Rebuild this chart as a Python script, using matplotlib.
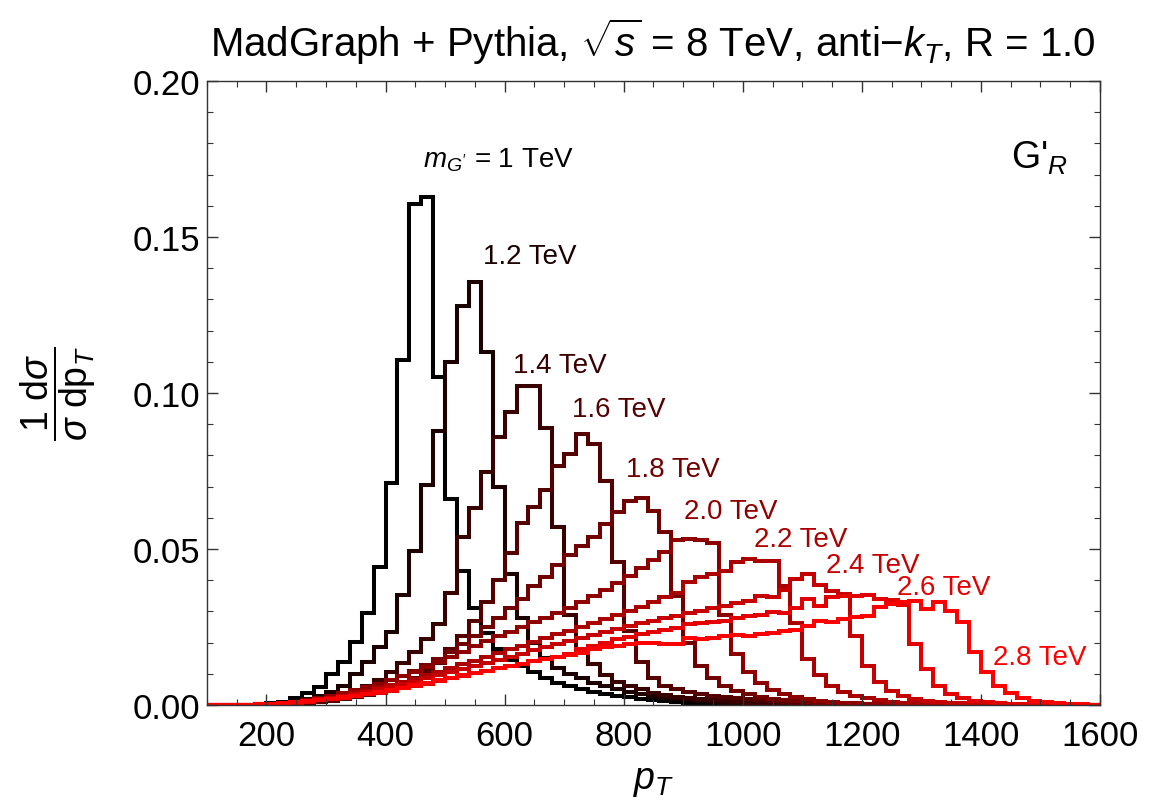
import numpy as np
import matplotlib.pyplot as plt
from matplotlib.ticker import MultipleLocator

plt.rcParams['font.family'] = ['Liberation Sans', 'DejaVu Sans']
plt.rcParams['mathtext.fontset'] = 'custom'
plt.rcParams['mathtext.rm'] = 'Liberation Sans'
plt.rcParams['mathtext.it'] = 'Liberation Sans:italic'
plt.rcParams['mathtext.bf'] = 'Liberation Sans:bold'

# pT bins: 100 .. 1600 GeV, 20 GeV wide (75 bins)
bin_edges = np.arange(100, 1601, 20)

masses = ['1.0', '1.2', '1.4', '1.6', '1.8', '2.0', '2.2', '2.4', '2.6', '2.8']

h_10 = [0, 0, 0, 0, 0, 0.0005, 0.001, 0.0021, 0.0038, 0.0057,
        0.0099, 0.0139, 0.0201, 0.0295, 0.0441, 0.0713, 0.1106, 0.1606, 0.1627, 0.105,
        0.066, 0.043, 0.031, 0.023, 0.018, 0.0145, 0.0125, 0.0105, 0.0085, 0.007,
        0.006, 0.005, 0.0042, 0.0035, 0.003, 0.0025, 0.002, 0.0016, 0.0012, 0.0009,
        0.0007, 0.0005, 0.0004, 0.0003, 0.0002, 0.0001, 0.0001, 0, 0, 0,
        0, 0, 0, 0, 0, 0, 0, 0, 0, 0,
        0, 0, 0, 0, 0, 0, 0, 0, 0, 0,
        0, 0, 0, 0, 0]
h_12 = [0, 0, 0, 0, 0, 0.0003, 0.0006, 0.0011, 0.0018, 0.0028,
        0.0041, 0.0062, 0.0099, 0.0139, 0.0185, 0.0235, 0.0353, 0.0495, 0.0706, 0.0879,
        0.110, 0.1278, 0.1355, 0.113, 0.0698, 0.042, 0.028, 0.02, 0.015, 0.012,
        0.01, 0.0085, 0.007, 0.006, 0.005, 0.0042, 0.0035, 0.0029, 0.0024, 0.002,
        0.0016, 0.0013, 0.001, 0.0008, 0.0006, 0.0005, 0.0004, 0.0003, 0.0002, 0.0001,
        0, 0, 0, 0, 0, 0, 0, 0, 0, 0,
        0, 0, 0, 0, 0, 0, 0, 0, 0, 0,
        0, 0, 0, 0, 0]
h_14 = [0, 0, 0, 0, 0, 0.0002, 0.0004, 0.0007, 0.0011, 0.0016,
        0.0023, 0.0032, 0.0045, 0.006, 0.008, 0.0105, 0.0135, 0.017, 0.021, 0.026,
        0.036, 0.054, 0.063, 0.0746, 0.086, 0.094, 0.1023, 0.1023, 0.0888, 0.057,
        0.029, 0.018, 0.013, 0.0095, 0.0075, 0.006, 0.005, 0.004, 0.0033, 0.0027,
        0.0022, 0.0018, 0.0015, 0.0012, 0.001, 0.0008, 0.0006, 0.0005, 0.0004, 0.0003,
        0.0002, 0.0001, 0, 0, 0, 0, 0, 0, 0, 0,
        0, 0, 0, 0, 0, 0, 0, 0, 0, 0,
        0, 0, 0, 0, 0]
h_16 = [0, 0, 0, 0, 0, 0.0001, 0.0002, 0.0004, 0.0006, 0.0009,
        0.0013, 0.0018, 0.0025, 0.0033, 0.0043, 0.0055, 0.007, 0.0088, 0.011, 0.0135,
        0.018, 0.022, 0.027, 0.033, 0.04, 0.0487, 0.0583, 0.0634, 0.069, 0.0767,
        0.0804, 0.0869, 0.0837, 0.0719, 0.0457, 0.0238, 0.0137, 0.0085, 0.0062, 0.005,
        0.0042, 0.0036, 0.003, 0.0025, 0.0021, 0.0018, 0.0015, 0.0012, 0.001, 0.0008,
        0.0006, 0.0005, 0.0004, 0.0003, 0.0002, 0.0002, 0.0001, 0, 0, 0,
        0, 0, 0, 0, 0, 0, 0, 0, 0, 0,
        0, 0, 0, 0, 0]
h_18 = [0, 0, 0, 0.0001, 0.0002, 0.0004, 0.0007, 0.0011, 0.0016, 0.0022,
        0.0029, 0.0036, 0.0045, 0.0055, 0.0067, 0.008, 0.0094, 0.011, 0.0128, 0.0148,
        0.017, 0.0195, 0.022, 0.025, 0.028, 0.031, 0.034, 0.038, 0.041, 0.045,
        0.048, 0.051, 0.054, 0.058, 0.062, 0.0655, 0.0665, 0.0623, 0.0553, 0.035,
        0.02, 0.0125, 0.0085, 0.006, 0.0045, 0.0034, 0.0026, 0.002, 0.0015, 0.0012,
        0.0009, 0.0007, 0.0005, 0.0004, 0.0003, 0.0002, 0.0001, 0, 0, 0,
        0, 0, 0, 0, 0, 0, 0, 0, 0, 0,
        0, 0, 0, 0, 0]
h_20 = [0, 0, 0, 0.0001, 0.0002, 0.0004, 0.0007, 0.001, 0.0014, 0.0019,
        0.003, 0.0038, 0.0047, 0.0057, 0.0068, 0.008, 0.0093, 0.0107, 0.0122, 0.0138,
        0.0155, 0.017, 0.019, 0.0205, 0.022, 0.0235, 0.025, 0.0265, 0.028, 0.0295,
        0.031, 0.033, 0.035, 0.037, 0.039, 0.0415, 0.044, 0.0465, 0.049, 0.053,
        0.0532, 0.053, 0.052, 0.029, 0.0165, 0.0105, 0.007, 0.0048, 0.0034, 0.0025,
        0.0018, 0.0013, 0.001, 0.0007, 0.0005, 0.0004, 0.0003, 0.0002, 0.0001, 0,
        0, 0, 0, 0, 0, 0, 0, 0, 0, 0,
        0, 0, 0, 0, 0]
h_22 = [0, 0, 0, 0.0001, 0.0002, 0.0004, 0.0006, 0.0009, 0.0013, 0.0018,
        0.0024, 0.003, 0.0037, 0.0045, 0.0054, 0.0063, 0.0073, 0.0084, 0.0095, 0.0106,
        0.0118, 0.013, 0.0142, 0.0154, 0.0166, 0.0178, 0.019, 0.0202, 0.0214, 0.0226,
        0.0238, 0.025, 0.0262, 0.0275, 0.0288, 0.03, 0.0315, 0.033, 0.0345, 0.036,
        0.0395, 0.041, 0.042, 0.043, 0.0457, 0.0468, 0.046, 0.046, 0.038, 0.0264,
        0.0147, 0.0095, 0.0062, 0.0042, 0.003, 0.0021, 0.0015, 0.0011, 0.0008, 0.0006,
        0.0004, 0.0003, 0.0002, 0.0001, 0, 0, 0, 0, 0, 0,
        0, 0, 0, 0, 0]
h_24 = [0, 0, 0, 0.0001, 0.0002, 0.0004, 0.0006, 0.0009, 0.0013, 0.0018,
        0.0023, 0.0029, 0.0035, 0.0042, 0.005, 0.0058, 0.0066, 0.0075, 0.0085, 0.0095,
        0.0105, 0.0115, 0.0125, 0.0135, 0.0145, 0.0155, 0.0165, 0.0175, 0.0185, 0.0195,
        0.0205, 0.0215, 0.0225, 0.0235, 0.0245, 0.0254, 0.0262, 0.027, 0.0278, 0.0286,
        0.0295, 0.0302, 0.031, 0.0318, 0.0326, 0.0334, 0.035, 0.0345, 0.037, 0.0404,
        0.042, 0.0385, 0.0366, 0.0356, 0.0222, 0.0126, 0.0073, 0.0045, 0.003, 0.002,
        0.0014, 0.001, 0.0007, 0.0005, 0.0003, 0.0002, 0.0001, 0, 0, 0,
        0, 0, 0, 0, 0]
h_26 = [0, 0, 0, 0.0001, 0.0002, 0.0003, 0.0005, 0.0008, 0.0011, 0.0015,
        0.0019, 0.0024, 0.0029, 0.0034, 0.004, 0.0046, 0.0053, 0.006, 0.0068, 0.0077,
        0.0086, 0.0094, 0.0102, 0.011, 0.0118, 0.0126, 0.0133, 0.014, 0.0148, 0.0155,
        0.0165, 0.0178, 0.019, 0.02, 0.021, 0.0218, 0.0226, 0.0233, 0.024, 0.0248,
        0.026, 0.0262, 0.0265, 0.0268, 0.028, 0.0285, 0.029, 0.0298, 0.0295, 0.031,
        0.034, 0.0318, 0.0345, 0.035, 0.035, 0.0352, 0.034, 0.0338, 0.032, 0.0196,
        0.0116, 0.0062, 0.0036, 0.0022, 0.0014, 0.0009, 0.0006, 0.0004, 0.0003, 0.0002,
        0.0001, 0, 0, 0, 0]
h_28 = [0, 0, 0, 0.0001, 0.0002, 0.0004, 0.0006, 0.0009, 0.0012, 0.0016,
        0.002, 0.0025, 0.003, 0.0036, 0.0042, 0.0049, 0.0056, 0.0063, 0.0071, 0.0079,
        0.0087, 0.0095, 0.0103, 0.011, 0.0118, 0.0125, 0.0132, 0.014, 0.0148, 0.0155,
        0.016, 0.0168, 0.0178, 0.0185, 0.019, 0.0195, 0.0198, 0.02, 0.0196, 0.0197,
        0.0215, 0.021, 0.0215, 0.0222, 0.0225, 0.0222, 0.0228, 0.023, 0.0238, 0.024,
        0.0254, 0.027, 0.0265, 0.0276, 0.0281, 0.0286, 0.0313, 0.0324, 0.0329, 0.0334,
        0.0308, 0.0329, 0.0302, 0.0265, 0.0169, 0.0105, 0.0062, 0.0037, 0.0022, 0.0014,
        0.0009, 0.0006, 0.0004, 0.0002, 0.0001]

hists = [h_10, h_12, h_14, h_16, h_18, h_20, h_22, h_24, h_26, h_28]

# label text and where it sits (pT, value)
label_text = [r"$m_{G'}$ = 1 TeV", '1.2 TeV', '1.4 TeV', '1.6 TeV', '1.8 TeV',
              '2.0 TeV', '2.2 TeV', '2.4 TeV', '2.6 TeV', '2.8 TeV']
label_x = [590, 643, 693, 792, 883, 980, 1098, 1219, 1338, 1498]
label_y = [0.175, 0.1439, 0.109, 0.0949, 0.0756, 0.0622, 0.0532, 0.0449, 0.0378, 0.0154]

fig = plt.figure(figsize=(11.51, 8.03), dpi=100)
ax = fig.add_axes([0.1798, 0.1208, 0.7759, 0.7771])

n = len(hists)
for i in range(n):
    col = (i / (n - 1), 0, 0)
    ax.stairs(hists[i], bin_edges, color=col, linewidth=2.9, baseline=0)
    ax.text(label_x[i], label_y[i], label_text[i], color=col, fontsize=20,
            ha='center', va='center')

ax.text(1499, 0.1756, r"G'$_R$", fontsize=27, ha='center', va='center')

ax.set_xlim(100, 1600)
ax.set_ylim(0, 0.2)
ax.xaxis.set_major_locator(MultipleLocator(200))
ax.xaxis.set_minor_locator(MultipleLocator(50))
ax.yaxis.set_major_locator(MultipleLocator(0.05))
ax.yaxis.set_minor_locator(MultipleLocator(0.01))
ax.yaxis.set_major_formatter(plt.FuncFormatter(lambda v, p: '%.2f' % v))
ax.tick_params(which='both', direction='in', top=True, right=True, labelsize=25,
               color='#333333')
ax.tick_params(which='major', length=8, width=1)
ax.tick_params(which='minor', length=4.5, width=0.8)
ax.tick_params(axis='x', which='major', pad=10)
ax.tick_params(axis='y', which='major', pad=5)
for s in ax.spines.values():
    s.set_color('#333333')
    s.set_linewidth(1)

ax.set_xlabel(r'$p_T$', fontsize=27)
ax.xaxis.set_label_coords(0.5, -0.092)
ax.set_ylabel(r'$\dfrac{1\ \mathrm{d}\sigma}{\sigma\ \mathrm{dp}_T}$', fontsize=27)
ax.yaxis.set_label_coords(-0.122, 0.5)
fig.text(0.567, 0.948, r'MadGraph + Pythia, $\sqrt{s}$ = 8 TeV, anti$-k_T$, R = 1.0',
         fontsize=29, ha='center', va='center')

fig.savefig('out.png', dpi=100)
